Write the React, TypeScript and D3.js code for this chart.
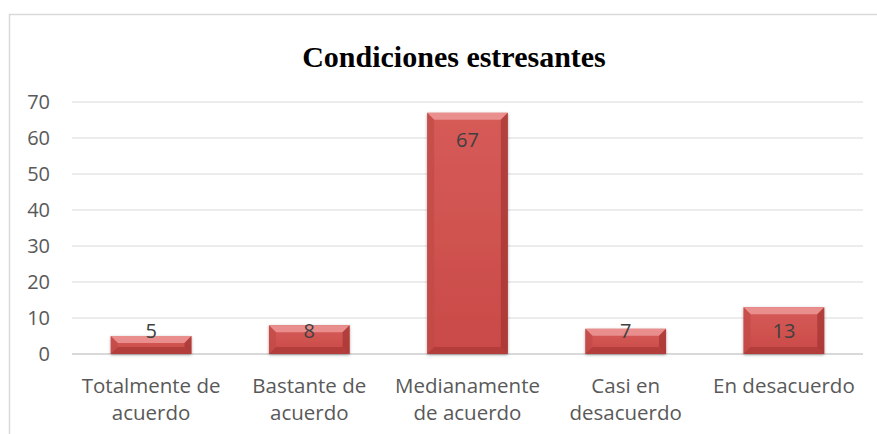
import * as d3 from "d3";
import React from "react";

const categories = [
  ["Totalmente de", "acuerdo"],
  ["Bastante de", "acuerdo"],
  ["Medianamente", "de acuerdo"],
  ["Casi en", "desacuerdo"],
  ["En desacuerdo"],
];
const values = [5, 8, 67, 7, 13];
const yTicks = [0, 10, 20, 30, 40, 50, 60, 70];

const App = () => {
  const width = 877;
  const height = 434;
  const plot = { left: 72, right: 863, top: 102, bottom: 354 };

  const x = d3
    .scaleBand()
    .domain(categories.map((_, i) => String(i)))
    .range([plot.left, plot.right])
    .paddingInner(0.49)
    .paddingOuter(0.245);
  const y = d3.scaleLinear().domain([0, 70]).range([plot.bottom, plot.top]);

  const font = "'Open Sans', 'DejaVu Sans', sans-serif";
  const gray = "#595959";
  const bev = 7;

  return (
    <svg width={width} height={height} style={{ position: "absolute", left: 0, top: 0 }}>
      <defs>
        <linearGradient id="face" x1="0" y1="0" x2="0" y2="1">
          <stop offset="0" stopColor="#d65b58" />
          <stop offset="1" stopColor="#c94a47" />
        </linearGradient>
        <filter id="shadow" x="-20%" y="-20%" width="140%" height="140%">
          <feDropShadow dx="0" dy="1" stdDeviation="1.5" floodColor="#000" floodOpacity="0.35" />
        </filter>
      </defs>
      <rect x={0} y={0} width={width} height={height} fill="#fff" />
      <rect x={9.5} y={14.5} width={width + 10} height={height + 10} fill="none" stroke="#d9d9d9" strokeWidth={1.5} />

      <text
        x={454}
        y={67}
        textAnchor="middle"
        fontFamily="'Times New Roman', 'Liberation Serif', serif"
        fontWeight="bold"
        fontSize={30}
        fill="#000"
      >
        Condiciones estresantes
      </text>

      {yTicks.map((t) => (
        <g key={t}>
          <line
            x1={plot.left}
            x2={plot.right}
            y1={y(t)}
            y2={y(t)}
            stroke="#d9d9d9"
            strokeWidth={t === 0 ? 2 : 1}
          />
          <text
            x={50}
            y={y(t)}
            dy="0.35em"
            textAnchor="end"
            fontFamily={font}
            fontSize={20}
            fill={gray}
          >
            {t}
          </text>
        </g>
      ))}

      {values.map((v, i) => {
        const x0 = x(String(i))!;
        const w = x.bandwidth();
        const y0 = y(v);
        const y1 = y(0);
        const b = Math.min(bev, (y1 - y0) / 2);
        const labelY = Math.min(y0 + 27, y1 - 23);
        return (
          <g key={i}>
            <rect x={x0} y={y0} width={w} height={y1 - y0} fill="url(#face)" filter="url(#shadow)" />
            <polygon
              points={`${x0},${y0} ${x0 + w},${y0} ${x0 + w - b},${y0 + b} ${x0 + b},${y0 + b}`}
              fill="#eb9593"
              opacity={0.9}
            />
            <polygon
              points={`${x0},${y0} ${x0 + b},${y0 + b} ${x0 + b},${y1 - b} ${x0},${y1}`}
              fill="#c04a47"
              opacity={0.7}
            />
            <polygon
              points={`${x0 + w},${y0} ${x0 + w - b},${y0 + b} ${x0 + w - b},${y1 - b} ${x0 + w},${y1}`}
              fill="#a33532"
              opacity={0.7}
            />
            <polygon
              points={`${x0},${y1} ${x0 + b},${y1 - b} ${x0 + w - b},${y1 - b} ${x0 + w},${y1}`}
              fill="#9e3330"
              opacity={0.55}
            />
            <text
              x={x0 + w / 2}
              y={labelY}
              dy="0.35em"
              textAnchor="middle"
              fontFamily={font}
              fontSize={20}
              fill="#404040"
            >
              {v}
            </text>
          </g>
        );
      })}

      {categories.map((lines, i) => (
        <text
          key={i}
          x={x(String(i))! + x.bandwidth() / 2}
          y={393}
          textAnchor="middle"
          fontFamily={font}
          fontSize={20.5}
          fill={gray}
        >
          {lines.map((l, j) => (
            <tspan key={j} x={x(String(i))! + x.bandwidth() / 2} dy={j === 0 ? 0 : 27}>
              {l}
            </tspan>
          ))}
        </text>
      ))}
    </svg>
  );
};

export default App;
